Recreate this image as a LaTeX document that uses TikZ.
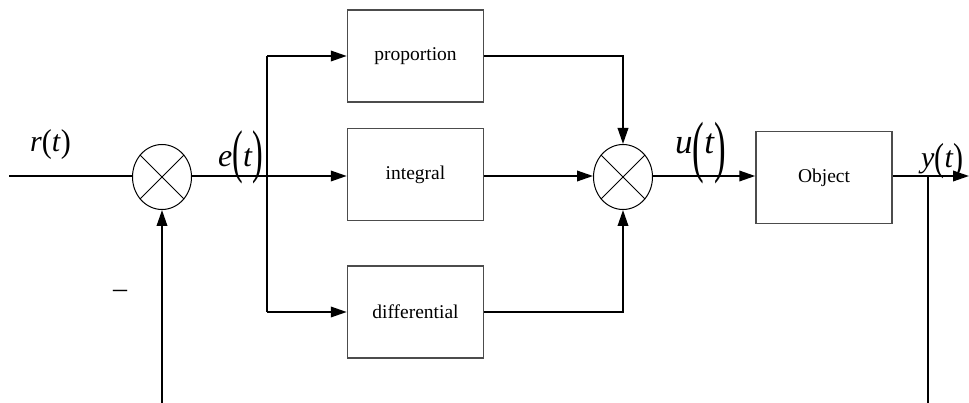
\documentclass[tikz,border=0pt]{standalone}
\usepackage{fontspec}
\usepackage{graphicx}
\setmainfont{Liberation Serif}
\usetikzlibrary{arrows.meta,shapes.geometric}
% #1 letter, #2 font size, #3 vertical paren scale, #4 paren raise
\newcommand\sigl[4]{{\fontsize{#2}{#2}\selectfont\textit{#1}\raisebox{#4}{\scalebox{1}[#3]{(}}\textit{t}\raisebox{#4}{\scalebox{1}[#3]{)}}}}
\begin{document}
\begin{tikzpicture}[x=1pt,y=-1pt,
  wire/.style={line width=2pt},
  arr/.style={wire,-{Triangle[length=16pt,width=10.5pt]}},
  block/.style={draw=black!70,line width=1.5pt,minimum width=136pt,minimum height=92pt,inner sep=0pt,font=\fontsize{19.5}{22}\selectfont},
  summ/.style={draw,line width=1pt,ellipse,minimum width=59pt,minimum height=65pt,inner sep=0pt},
  lbl/.style={anchor=base west,inner sep=0pt}
]
\useasboundingbox (0,0) rectangle (969,403);

% nodes
\node[summ] (s1) at (162,177) {};
\node[summ] (s2) at (623,177) {};
\draw[line width=1pt] (s1.45) -- (s1.225) (s1.135) -- (s1.315);
\draw[line width=1pt] (s2.45) -- (s2.225) (s2.135) -- (s2.315);

\node[block] (p) at (415.5,56) {proportion};
\node[block] (i) at (415.5,174.5) {integral};
\node[block] (d) at (415.5,312) {differential};
\node[block] (o) at (824,177.5) {Object};

\coordinate (in) at (9,176);
\coordinate (j) at (267,176);
\coordinate (jt) at (267,56);
\coordinate (jb) at (267,312);
\coordinate (pr) at (623,56);
\coordinate (dr) at (623,312);
\coordinate (out) at (969,176);
\coordinate (fb) at (928,176);
\coordinate (fbb) at (928,403);
\coordinate (fbl) at (162,403);

% connectors
\draw[wire] (in) -- (s1.west |- in);
\draw[wire] (s1.east |- j) -- (j);
\draw[wire] (jt) -- (jb);
\draw[arr] (j) -- (i.west |- j);
\draw[arr] (jt) -- (p.west);
\draw[arr] (jb) -- (d.west);
\draw[arr] (p.east) -- (pr) -- (s2.north);
\draw[arr] (d.east) -- (dr) -- (s2.south);
\draw[arr] (i.east |- j) -- (s2.west |- j);
\draw[arr] (s2.east |- j) -- (o.west |- j);
\draw[arr] (o.east |- j) -- (out);
\draw[wire] (fb) -- (fbb);
\draw[arr] (fbl) -- (s1.south);

% labels
\node[lbl] (lr) at (30,152) {\sigl{r}{30}{1.1}{-1pt}};
\node[lbl] (le) at (218,167) {\sigl{e}{32}{1.84}{-5pt}};
\node[lbl] (lu) at (675,154) {\sigl{u}{35}{1.95}{-16pt}};
\node[lbl] (ly) at (921,168) {\sigl{y}{30}{1.3}{-3pt}};
\node[inner sep=0pt] (minus) at (120,294) {\fontsize{28}{28}\selectfont –};
\end{tikzpicture}
\end{document}
